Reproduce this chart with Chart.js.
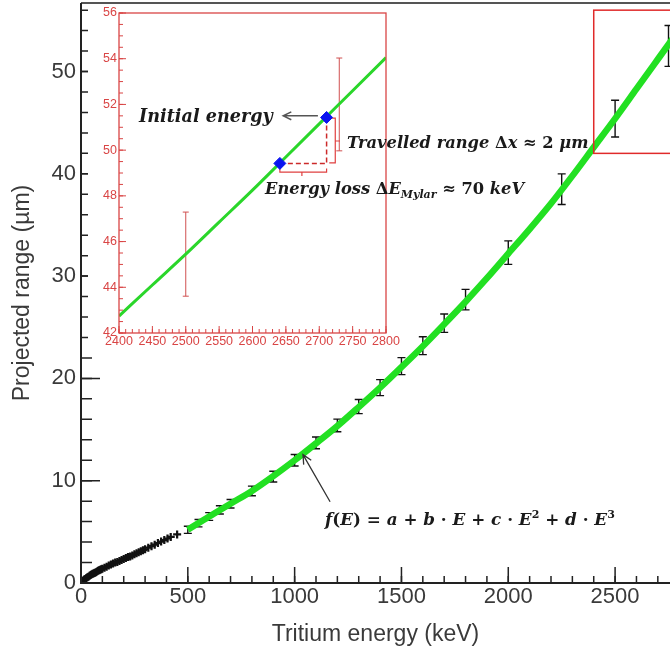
<!DOCTYPE html>
<html>
<head>
<meta charset="utf-8">
<script src="https://cdn.jsdelivr.net/npm/chart.js@4.4.1/dist/chart.umd.min.js"></script>
<style>
html, body { margin: 0; padding: 0; background: #fff; }
#wrap { position: relative; width: 670px; height: 651px; overflow: hidden; }
#main { position: absolute; left: 0; top: 0; }
#inset { position: absolute; left: 88px; top: 5px; background: #fff; }
.note { position: absolute; font-family: "DejaVu Serif", serif; font-weight: bold; font-style: italic;
        font-size: 16.3px; color: #1a1a1a; white-space: nowrap; line-height: 1; }
.note .u { font-style: normal; }
.note sub { font-size: 11px; vertical-align: -4px; }
.note sup { font-size: 11px; vertical-align: 7px; }
</style>
</head>
<body>
<div id="wrap">
  <canvas id="main" width="670" height="651"></canvas>
  <canvas id="inset" width="317" height="347"></canvas>
  <div class="note" style="left:139px; top:107px; font-size:17.6px;">Initial energy</div>
  <div class="note" style="left:347px; top:135px;">Travelled range <span class="u">Δ</span>x <span class="u">≈ 2</span> μm</div>
  <div class="note" style="left:265px; top:181px;">Energy loss <span class="u">Δ</span>E<sub>Mylar</sub> <span class="u">≈ 70</span> keV</div>
  <div class="note" style="left:325px; top:509px; font-size:16.8px;">f<span class="u">(</span>E<span class="u">) = </span>a<span class="u"> + </span>b<span class="u"> · </span>E<span class="u"> + </span>c<span class="u"> · </span>E<sup class="u">2</sup><span class="u"> + </span>d<span class="u"> · </span>E<sup class="u">3</sup></div>
</div>
<script>
// --- DATA ---

// low energy points, black crosses
const lowE = [5, 10, 15, 20, 25, 30, 35, 40, 45, 50, 55, 60, 65, 70, 75, 80, 85, 90, 95, 100, 110, 120, 130, 140, 150, 160, 170, 180, 190, 200,
              210, 220, 230, 240, 250, 260, 270, 280, 290, 300, 315, 330, 345, 360, 375, 390, 405, 420, 450];
const lowR = [0.15, 0.25, 0.33, 0.4, 0.48, 0.55, 0.62, 0.7, 0.78, 0.85, 0.9, 0.95, 1.0, 1.05, 1.12, 1.2, 1.25, 1.3, 1.35, 1.4, 1.5, 1.6, 1.7, 1.8, 1.9, 2.0, 2.05, 2.15, 2.25, 2.35,
              2.45, 2.55, 2.6, 2.7, 2.8, 2.9, 3.0, 3.1, 3.2, 3.3, 3.45, 3.6, 3.75, 3.9, 4.05, 4.2, 4.35, 4.5, 4.75];

// points with error bars
const barE = [500, 550, 600, 650, 700, 800, 900, 1000, 1100, 1200, 1300, 1400, 1500, 1600, 1700, 1800, 2000, 2250, 2500, 2750];
const barR = [5.2, 5.85, 6.5, 7.15, 7.75, 9.0, 10.4, 12.0, 13.7, 15.4, 17.25, 19.1, 21.2, 23.2, 25.4, 27.7, 32.3, 38.5, 45.4, 52.5];
const barErr = [0.35, 0.36, 0.38, 0.4, 0.42, 0.47, 0.52, 0.56, 0.58, 0.62, 0.69, 0.78, 0.83, 0.87, 0.9, 1.0, 1.15, 1.5, 1.8, 2.0];

// cubic fit f(E)
const fitE = [500, 600, 700, 800, 900, 1000, 1100, 1200, 1300, 1400, 1500, 1600, 1700, 1800, 1900, 2000,
              2100, 2200, 2300, 2400, 2500, 2600, 2700, 2800];
const fitR = [5.2, 6.5, 7.75, 9.0, 10.45, 12.0, 13.65, 15.35, 17.2, 19.1, 21.1, 23.15, 25.3, 27.5, 29.8, 32.2,
              34.6, 37.1, 39.8, 42.6, 45.4, 48.3, 51.2, 54.1];

// axis ticks
const xTicks = [0, 500, 1000, 1500, 2000, 2500];
const yTicks = [0, 10, 20, 30, 40, 50];

// zoomed region (red box)
const zoomE = [2400, 2800];
const zoomR = [42, 56];

// formula arrow [tail, head]
const fArrowE = [1166, 1039];
const fArrowR = [7.94, 12.55];

// --- INSET DATA ---
const insetFitE = [2400, 2450, 2500, 2550, 2600, 2650, 2700, 2750, 2800];
const insetFitR = [42.74, 44.1, 45.45, 46.85, 48.25, 49.7, 51.15, 52.6, 54.05];
const insetBarE = [2500, 2730];
const insetBarR = [45.45, 52.0];
const insetBarErr = [1.84, 2.03];
const markE = [2641, 2711];
const markR = [49.42, 51.43];
const dashHE = [2641, 2711], dashHR = [49.42, 49.42];
const dashVE = [2711, 2711], dashVR = [51.43, 49.42];
const brackHE = [2641, 2641, 2674, 2674, 2674, 2711, 2711];
const brackHR = [49.2, 49.04, 49.04, 48.87, 49.04, 49.04, 49.2];
const brackVE = [2715, 2724, 2724, 2731, 2724, 2724, 2715];
const brackVR = [51.4, 51.4, 50.4, 50.4, 50.4, 49.44, 49.44];
const iArrowE = [2698, 2646];
const iArrowR = [51.5, 51.5];
const insetXTicks = [2400, 2450, 2500, 2550, 2600, 2650, 2700, 2750, 2800];
const insetYTicks = [42, 44, 46, 48, 50, 52, 54, 56];

// --- HJÆLPERE ---
const pts = (xs, ys) => xs.map((v, i) => ({ x: v, y: ys[i] }));
const plain = v => String(v);
const TXT = '#3a3a3a';
const RED = '#d94545';

// stop Chart.js from reserving room for half-labels at the axis ends
function fixSize(key, size) {
    return s => { s[key] = size; s.paddingTop = 0; s.paddingBottom = 0; s.paddingLeft = 0; s.paddingRight = 0; };
}

function arrow(ctx, x1, y1, x2, y2, size) {
    const ang = Math.atan2(y2 - y1, x2 - x1);
    ctx.beginPath();
    ctx.moveTo(x1, y1); ctx.lineTo(x2, y2);
    ctx.moveTo(x2 - size * Math.cos(ang - 0.45), y2 - size * Math.sin(ang - 0.45));
    ctx.lineTo(x2, y2);
    ctx.lineTo(x2 - size * Math.cos(ang + 0.45), y2 - size * Math.sin(ang + 0.45));
    ctx.stroke();
}

function innerTicks(ctx, scale, a, from, to, step, len, horizontal) {
    ctx.beginPath();
    for (let v = from; v <= to + 1e-6; v += step) {
        const p = scale.getPixelForValue(v);
        if (horizontal) { ctx.moveTo(p, a.bottom); ctx.lineTo(p, a.bottom - len); }
        else { ctx.moveTo(a.left, p); ctx.lineTo(a.left + len, p); }
    }
    ctx.stroke();
}

function errorBars(ctx, x, y, es, rs, errs, cap) {
    ctx.beginPath();
    es.forEach((e, i) => {
        const px = x.getPixelForValue(e);
        const t = y.getPixelForValue(rs[i] + errs[i]);
        const b = y.getPixelForValue(rs[i] - errs[i]);
        ctx.moveTo(px, t); ctx.lineTo(px, b);
        ctx.moveTo(px - cap, t); ctx.lineTo(px + cap, t);
        ctx.moveTo(px - cap, b); ctx.lineTo(px + cap, b);
    });
    ctx.stroke();
}

// --- HOVEDGRAF ---
const mainDecor = {
    id: 'mainDecor',
    beforeDatasetsDraw(chart) {
        const { ctx, scales: { x, y } } = chart;
        ctx.save();
        ctx.strokeStyle = '#111';
        ctx.lineWidth = 1.4;
        errorBars(ctx, x, y, barE, barR, barErr, 4);
        ctx.restore();
    },
    afterDraw(chart) {
        const { ctx, chartArea: a, scales: { x, y } } = chart;
        ctx.save();
        // frame
        ctx.strokeStyle = '#555'; ctx.lineWidth = 2;
        ctx.beginPath(); ctx.moveTo(a.left, a.top); ctx.lineTo(a.right, a.top); ctx.stroke();
        ctx.strokeStyle = '#222';
        ctx.beginPath();
        ctx.moveTo(a.left, a.top); ctx.lineTo(a.left, a.bottom); ctx.lineTo(a.right, a.bottom);
        ctx.stroke();
        ctx.lineWidth = 1.5;
        innerTicks(ctx, x, a, 0, x.max, 100, 7, true);
        innerTicks(ctx, x, a, 0, x.max, 500, 16, true);
        innerTicks(ctx, y, a, 0, y.max, 2, 11, false);
        innerTicks(ctx, y, a, 0, y.max, 10, 19, false);
        // red zoom box
        ctx.strokeStyle = '#e02a2a'; ctx.lineWidth = 1.5;
        const bx = x.getPixelForValue(zoomE[0]), by = y.getPixelForValue(zoomR[1]);
        ctx.strokeRect(bx, by, x.getPixelForValue(zoomE[1]) - bx, y.getPixelForValue(zoomR[0]) - by);
        // formula arrow
        ctx.strokeStyle = '#333'; ctx.lineWidth = 1.3;
        arrow(ctx, x.getPixelForValue(fArrowE[0]), y.getPixelForValue(fArrowR[0]),
              x.getPixelForValue(fArrowE[1]), y.getPixelForValue(fArrowR[1]), 10);
        ctx.restore();
    }
};

new Chart(document.getElementById('main'), {
    type: 'scatter',
    data: {
        datasets: [
            { data: pts(lowE, lowR), pointStyle: 'cross', radius: 4, borderColor: '#111', borderWidth: 2.2 },
            { data: pts(fitE, fitR), showLine: true, borderColor: '#22e022', borderWidth: 6.5, pointRadius: 0,
              cubicInterpolationMode: 'monotone' }
        ]
    },
    options: {
        responsive: false, animation: false, events: [],
        layout: { autoPadding: false, padding: { top: 3, right: 0, left: 0, bottom: 0 } },
        plugins: { legend: { display: false }, tooltip: { enabled: false } },
        scales: {
            x: {
                type: 'linear', min: 0, max: 2757,
                grid: { display: false, drawTicks: false }, border: { display: false },
                afterFit: fixSize('height', 68),
                afterBuildTicks(s) { s.ticks = xTicks.map(v => ({ value: v })); },
                ticks: { font: { family: 'Liberation Sans', size: 22 }, color: TXT, padding: 1, maxRotation: 0,
                         autoSkip: false, callback: plain },
                title: { display: true, text: 'Tritium energy (keV)', font: { family: 'Liberation Sans', size: 23 },
                         color: TXT, padding: { top: 0, bottom: 3 } }
            },
            y: {
                type: 'linear', min: 0, max: 56.7,
                grid: { display: false, drawTicks: false }, border: { display: false },
                afterFit: fixSize('width', 81),
                afterBuildTicks(s) { s.ticks = yTicks.map(v => ({ value: v })); },
                ticks: { font: { family: 'Liberation Sans', size: 22 }, color: TXT, padding: 5, autoSkip: false, callback: plain },
                title: { display: true, text: 'Projected range (µm)', font: { family: 'Liberation Sans', size: 23 },
                         color: TXT, padding: { top: 9, bottom: 0 } }
            }
        }
    },
    plugins: [mainDecor]
});

// --- INDSAT GRAF ---
const insetDecor = {
    id: 'insetDecor',
    beforeDatasetsDraw(chart) {
        const { ctx, scales: { x, y } } = chart;
        ctx.save();
        ctx.strokeStyle = '#d05050';
        ctx.lineWidth = 1;
        errorBars(ctx, x, y, insetBarE, insetBarR, insetBarErr, 3);
        ctx.restore();
    },
    afterDraw(chart) {
        const { ctx, chartArea: a, scales: { x, y } } = chart;
        ctx.save();
        ctx.strokeStyle = RED; ctx.lineWidth = 1.3;
        ctx.strokeRect(a.left, a.top, a.right - a.left, a.bottom - a.top);
        ctx.lineWidth = 1;
        innerTicks(ctx, x, a, x.min, x.max, 10, 4, true);
        innerTicks(ctx, x, a, x.min, x.max, 50, 7, true);
        innerTicks(ctx, y, a, y.min, y.max, 0.5, 4, false);
        innerTicks(ctx, y, a, y.min, y.max, 2, 7, false);
        ctx.strokeStyle = '#555'; ctx.lineWidth = 1.5;
        arrow(ctx, x.getPixelForValue(iArrowE[0]), y.getPixelForValue(iArrowR[0]),
              x.getPixelForValue(iArrowE[1]), y.getPixelForValue(iArrowR[1]), 9);
        ctx.restore();
    }
};

new Chart(document.getElementById('inset'), {
    type: 'scatter',
    data: {
        datasets: [
            { data: pts(markE, markR), pointStyle: 'rectRot', radius: 6, backgroundColor: '#0a14f0', borderColor: '#0a14f0', borderWidth: 1 },
            { data: pts(dashHE, dashHR), showLine: true, borderColor: '#cc2a2a', borderWidth: 1.5, borderDash: [5, 3], pointRadius: 0 },
            { data: pts(dashVE, dashVR), showLine: true, borderColor: '#cc2a2a', borderWidth: 1.5, borderDash: [5, 3], pointRadius: 0 },
            { data: pts(brackHE, brackHR), showLine: true, borderColor: '#e04040', borderWidth: 1.2, pointRadius: 0 },
            { data: pts(brackVE, brackVR), showLine: true, borderColor: '#e04040', borderWidth: 1.2, pointRadius: 0 },
            { data: pts(insetFitE, insetFitR), showLine: true, borderColor: '#2ad62a', borderWidth: 3, pointRadius: 0,
              cubicInterpolationMode: 'monotone' }
        ]
    },
    options: {
        responsive: false, animation: false, events: [],
        layout: { autoPadding: false, padding: { top: 8, right: 19, left: 0, bottom: 0 } },
        plugins: { legend: { display: false }, tooltip: { enabled: false } },
        scales: {
            x: {
                type: 'linear', min: 2400, max: 2800,
                grid: { display: false, drawTicks: false }, border: { display: false },
                afterFit: fixSize('height', 19),
                afterBuildTicks(s) { s.ticks = insetXTicks.map(v => ({ value: v })); },
                ticks: { font: { family: 'Liberation Sans', size: 12.5 }, color: RED, padding: 1, maxRotation: 0,
                         autoSkip: false, callback: plain }
            },
            y: {
                type: 'linear', min: 42, max: 56,
                grid: { display: false, drawTicks: false }, border: { display: false },
                afterFit: fixSize('width', 31),
                afterBuildTicks(s) { s.ticks = insetYTicks.map(v => ({ value: v })); },
                ticks: { font: { family: 'Liberation Sans', size: 12.5 }, color: RED, padding: 2, autoSkip: false, callback: plain }
            }
        }
    },
    plugins: [insetDecor]
});
</script>
</body>
</html>
